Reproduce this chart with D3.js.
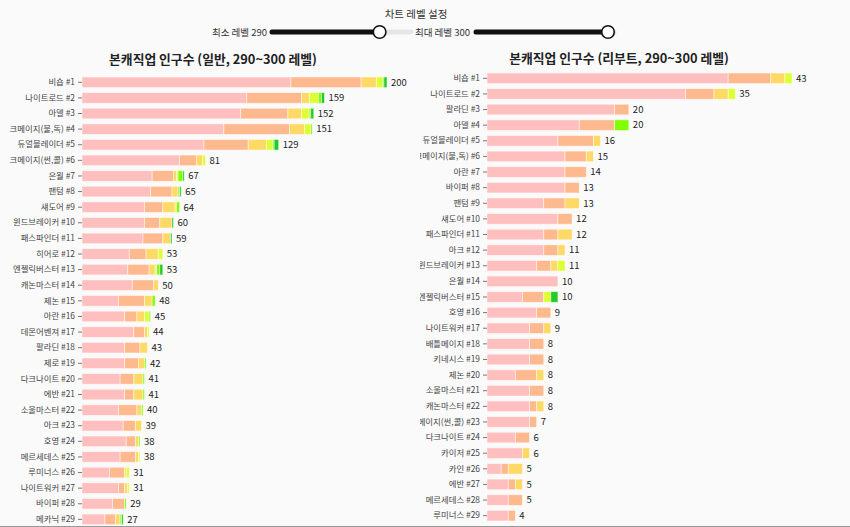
<!DOCTYPE html>
<html><head><meta charset="utf-8">
<script src="https://cdn.jsdelivr.net/npm/d3@7"></script>
<style>
html,body{margin:0;padding:0;background:#fafafa;overflow:hidden;}
svg{display:block;font-family:"Noto Sans CJK KR","Noto Sans",sans-serif;}
</style></head><body>
<svg id="c" width="850" height="527"></svg>
<script>
// ---- data ----
const levels = [290, 291, 292, 293, 294, 295];
const levelColors = ["#ffbfbf", "#ffb98f", "#ffd966", "#ddff33", "#7fff00", "#22cc22"];
const sliderLabels = ["최소 레벨", "최대 레벨"];
const sliderValues = [290, 300];
const sliderRange = [250, 300];

const normalTitle = "본캐직업 인구수 (일반, 290~300 레벨)";
const normalJobs = ["비숍","나이트로드","아델","크메이지(불,독)","듀얼블레이더","크메이지(썬,콜)","은월","팬텀","섀도어","윈드브레이커","패스파인더","히어로","엔젤릭버스터","캐논마스터","제논","아란","데몬어벤져","팔라딘","제로","다크나이트","에반","소울마스터","아크","호영","메르세데스","루미너스","나이트워커","바이퍼","메카닉"];
const normal290 = [137,108,104,93,80,64,46,45,41,41,40,31,30,33,24,28,34,28,28,25,28,24,27,29,25,18,24,20,15];
const normal291 = [46,36,31,43,29,11,14,14,12,10,13,11,14,14,17,8,7,10,9,9,6,12,8,6,10,10,4,8,7];
const normal292 = [10,5,9,10,12,4,2,4,8,8,5,8,4,3,5,5,2,5,4,6,6,3,4,2,2,1,2,0,3];
const normal293 = [4,6,5,4,4,2,1,0,1,0,0,3,1,0,0,3,1,0,0,0,0,0,0,0,1,2,1,0,0];
const normal294 = [1,2,1,1,1,0,3,1,2,0,0,0,2,0,2,1,0,0,1,1,1,1,0,1,0,0,0,1,1];
const normal295 = [2,2,2,0,3,0,1,1,0,1,1,0,2,0,0,0,0,0,0,0,0,0,0,0,0,0,0,0,1];

const rebootTitle = "본캐직업 인구수 (리부트, 290~300 레벨)";
const rebootJobs = ["비숍","나이트로드","팔라딘","아델","듀얼블레이더","크메이지(불,독)","아란","바이퍼","팬텀","섀도어","패스파인더","아크","윈드브레이커","은월","엔젤릭버스터","호영","나이트워커","배틀메이지","키네시스","제논","소울마스터","캐논마스터","크메이지(썬,콜)","다크나이트","카이저","카인","에반","메르세데스","루미너스"];
const reboot290 = [34,28,18,13,10,11,11,11,8,10,8,8,7,10,5,7,6,6,6,4,6,6,6,4,5,2,3,3,3];
const reboot291 = [6,4,2,5,5,3,3,2,3,2,2,2,2,0,3,2,2,2,2,3,2,1,1,2,0,1,1,2,1];
const reboot292 = [2,2,0,0,1,1,0,0,2,0,2,1,1,0,0,0,1,0,0,1,0,1,0,0,1,2,1,0,0];
const reboot293 = [1,1,0,0,0,0,0,0,0,0,0,0,1,0,1,0,0,0,0,0,0,0,0,0,0,0,0,0,0];
const reboot294 = [0,0,0,2,0,0,0,0,0,0,0,0,0,0,0,0,0,0,0,0,0,0,0,0,0,0,0,0,0];
const reboot295 = [0,0,0,0,0,0,0,0,0,0,0,0,0,0,1,0,0,0,0,0,0,0,0,0,0,0,0,0,0];

const svg = d3.select("#c");
const defs = svg.append("defs");
defs.append("clipPath").attr("id", "clipL").append("rect")
  .attr("x", 0).attr("y", 0).attr("width", 420).attr("height", 527);
defs.append("clipPath").attr("id", "clipR").append("rect")
  .attr("x", 420).attr("y", 0).attr("width", 430).attr("height", 527);

// ---- controls ----
svg.append("text").attr("x", 416).attr("y", 18).attr("text-anchor", "middle")
  .attr("font-size", 10.5).attr("fill", "#333").text("차트 레벨 설정");

const sliders = [
  {label: sliderLabels[0], value: sliderValues[0], lx: 267, x0: 272, x1: 411},
  {label: sliderLabels[1], value: sliderValues[1], lx: 470, x0: 476, x1: 614}
];
sliders.forEach(s => {
  const sc = d3.scaleLinear().domain(sliderRange).range([s.x0 + 6, s.x1 - 6]);
  const g = svg.append("g");
  g.append("text").attr("x", s.lx).attr("y", 35.5).attr("text-anchor", "end")
    .attr("font-size", 9.5).attr("fill", "#333").text(s.label + " " + s.value);
  g.append("line").attr("x1", s.x0).attr("x2", s.x1).attr("y1", 32).attr("y2", 32)
    .attr("stroke", "#e6e6e6").attr("stroke-width", 5).attr("stroke-linecap", "round");
  g.append("line").attr("x1", s.x0).attr("x2", sc(s.value)).attr("y1", 32).attr("y2", 32)
    .attr("stroke", "#111").attr("stroke-width", 5).attr("stroke-linecap", "round");
  g.append("circle").attr("cx", sc(s.value)).attr("cy", 32).attr("r", 6.3)
    .attr("fill", "#fff").attr("stroke", "#111").attr("stroke-width", 1.6);
});

// ---- charts ----
function drawChart(opt) {
  const {title, jobs, series, x0, width, y0, step, titleX, titleY, clip} = opt;
  const rows = jobs.map((j, i) => {
    const r = {name: j + " #" + (i + 1)};
    levels.forEach((lv, k) => r[lv] = series[k][i]);
    r.total = levels.reduce((a, lv) => a + r[lv], 0);
    return r;
  });
  const g = svg.append("g").attr("clip-path", `url(#${clip})`);
  g.append("text").attr("x", titleX).attr("y", titleY).attr("text-anchor", "middle")
    .attr("font-size", 12.8).attr("font-weight", "bold").attr("fill", "#222").text(title);

  const y = d3.scaleBand().domain(rows.map(r => r.name))
    .range([y0, y0 + step * rows.length]).paddingInner(0.32).paddingOuter(0.16);
  const x = d3.scaleLinear().domain([0, d3.max(rows, r => r.total)]).range([x0, x0 + width]);
  const stack = d3.stack().keys(levels)(rows);

  g.selectAll("g.layer").data(stack).join("g").attr("class", "layer")
    .attr("fill", (d, i) => levelColors[i])
    .selectAll("rect").data(d => d).join("rect")
    .attr("x", d => x(d[0])).attr("width", d => Math.max(0, x(d[1]) - x(d[0])))
    .attr("y", d => y(d.data.name)).attr("height", y.bandwidth())
    .attr("stroke", "#fff").attr("stroke-opacity", 0.6).attr("stroke-width", 0.8);

  g.selectAll("text.val").data(rows).join("text").attr("class", "val")
    .attr("x", d => x(d.total) + 4).attr("y", d => y(d.name) + y.bandwidth() / 2)
    .attr("dy", "0.35em").attr("font-size", 9.5).attr("fill", "#222").text(d => d.total);

  const ax = g.append("g").attr("transform", `translate(${x0},0)`)
    .call(d3.axisLeft(y).tickSize(4).tickPadding(3));
  ax.select(".domain").remove();
  ax.selectAll("line").attr("stroke", "#777");
  ax.selectAll("text").attr("font-size", 8.4).attr("fill", "#444")
    .attr("font-family", "\"Noto Sans CJK KR\",sans-serif");
}

drawChart({title: normalTitle, jobs: normalJobs,
  series: [normal290, normal291, normal292, normal293, normal294, normal295],
  x0: 82, width: 305, y0: 74.5, step: 15.61, titleX: 213, titleY: 64, clip: "clipL"});
drawChart({title: rebootTitle, jobs: rebootJobs,
  series: [reboot290, reboot291, reboot292, reboot293, reboot294, reboot295],
  x0: 487, width: 305, y0: 70.5, step: 15.62, titleX: 619, titleY: 63, clip: "clipR"});

svg.append("line").attr("x1", 0).attr("x2", 850).attr("y1", 526.5).attr("y2", 526.5)
  .attr("stroke", "#999").attr("stroke-width", 1);
</script></body></html>
